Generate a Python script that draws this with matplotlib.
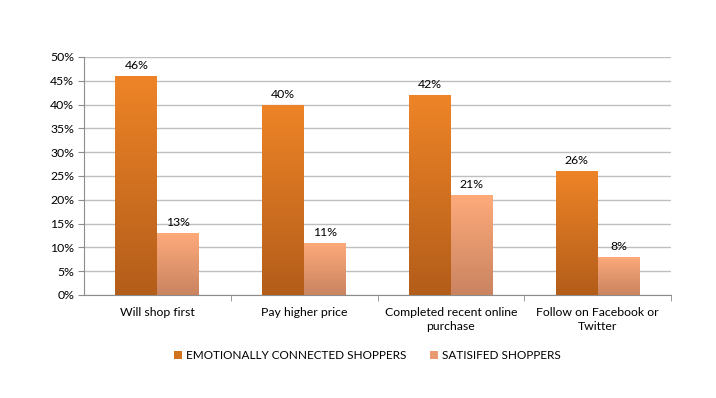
import numpy as np
import matplotlib
matplotlib.use("Agg")
import matplotlib.pyplot as plt
from matplotlib.colors import LinearSegmentedColormap
from matplotlib.patches import Patch

categories = ["Will shop first", "Pay higher price",
              "Completed recent online\npurchase", "Follow on Facebook or\nTwitter"]
series_names = ["EMOTIONALLY CONNECTED SHOPPERS", "SATISIFED SHOPPERS"]
emotional = [46, 40, 42, 26]
satisfied = [13, 11, 21, 8]
yticks = [0, 5, 10, 15, 20, 25, 30, 35, 40, 45, 50]

plt.rcParams['font.family'] = ['Lato', 'DejaVu Sans']

fig = plt.figure(figsize=(7.16, 3.98), dpi=100)
ax = fig.add_axes([0.1173, 0.2588, 0.82, 0.598])

x = np.arange(len(categories))
w = 0.286
grads = [("#EE8427", "#B35D1A"), ("#FEAA7B", "#C98460")]
for i, (vals, (ctop, cbot)) in enumerate(zip([emotional, satisfied], grads)):
    offs = -w / 2 if i == 0 else w / 2
    bars = ax.bar(x + offs, vals, width=w, color=ctop, zorder=3, linewidth=0)
    cmap = LinearSegmentedColormap.from_list("g%d" % i, [cbot, ctop])
    for b, v in zip(bars, vals):
        bx, by = b.get_x(), b.get_y()
        bw, bh = b.get_width(), b.get_height()
        grad = np.linspace(0, 1, 256).reshape(-1, 1)
        im = ax.imshow(grad, extent=[bx, bx + bw, by, by + bh], origin="lower",
                       cmap=cmap, aspect="auto", zorder=4)
        im.set_clip_path(b)
        ax.text(bx + bw / 2, by + bh + 1.0, "%d%%" % v, ha="center", va="bottom",
                fontsize=8.8, color="#000000", zorder=5)

ax.set_xlim(-0.5, len(categories) - 0.5)
ax.set_ylim(0, 50)
ax.set_yticks(yticks)
ax.set_yticklabels(["%d%%" % t for t in yticks], fontsize=8.8)
ax.yaxis.grid(True, color="#BFBFBF", linewidth=1.0, zorder=0)
ax.set_axisbelow(True)

ax.set_xticks(x)
ax.set_xticklabels(categories, fontsize=8.8, linespacing=1.25)
ax.set_xticks(np.arange(0.5, len(categories) - 0.4, 1.0), minor=True)
ax.tick_params(axis="x", which="major", length=0, pad=9)
ax.tick_params(axis="x", which="minor", length=4, color="#8C8C8C", direction="out")
ax.tick_params(axis="y", length=4, color="#8C8C8C", direction="out", pad=3)

for s in ["top", "right"]:
    ax.spines[s].set_visible(False)
for s in ["left", "bottom"]:
    ax.spines[s].set_color("#8C8C8C")
    ax.spines[s].set_linewidth(0.8)

handles = [Patch(facecolor="#D2721F", edgecolor="none"),
           Patch(facecolor="#E89A70", edgecolor="none")]
fig.legend(handles, series_names, loc="center", bbox_to_anchor=(0.513, 0.107),
           ncol=2, frameon=False, fontsize=8.5, handlelength=0.7, handleheight=0.7,
           handletextpad=0.3, columnspacing=2.0)

fig.savefig("out.png", dpi=100)
